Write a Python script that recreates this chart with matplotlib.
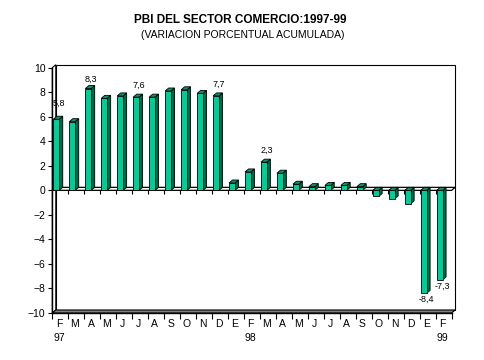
import matplotlib.pyplot as plt
import numpy as np
from matplotlib.patches import Polygon

plt.rcParams["font.family"] = ["Liberation Sans", "DejaVu Sans"]

# Data (accumulated % variation, Feb-97 .. Feb-99)
months = ["F", "M", "A", "M", "J", "J", "A", "S", "O", "N", "D", "E",
          "F", "M", "A", "M", "J", "J", "A", "S", "O", "N", "D", "E", "F"]
years = {0: "97", 12: "98", 24: "99"}
values = [5.8, 5.6, 8.3, 7.5, 7.7, 7.6, 7.6, 8.1, 8.2, 7.9, 7.7, 0.6,
          1.5, 2.3, 1.4, 0.5, 0.3, 0.4, 0.4, 0.3, -0.5, -0.7, -1.1, -8.4, -7.3]
labelled = [0, 2, 5, 10, 13, 23, 24]

front = "#00cc99"
side = "#006648"
top = "#00996e"

fig = plt.figure(figsize=(4.84, 3.6), dpi=100)
ax = fig.add_axes([52.3 / 484, 47 / 360, 399.3 / 484, 245.3 / 360])
x = np.arange(len(values))
x0, x1 = -0.25, len(values) - 0.25
ax.set_xlim(x0, x1)
ax.set_ylim(-10, 10)

# depth offset of the 3d look: 3.5 px right, 3 px up, turned into data units
inv = ax.transData.inverted()
p = ax.transData.transform((0, 0))
ddx, ddy = inv.transform(p + np.array([3.5, 3.0])) - inv.transform(p)

for s in ["top", "right", "bottom"]:
    ax.spines[s].set_visible(False)
ax.spines["left"].set_linewidth(1.0)


def poly(pts, fc, z, lw=0.8):
    ax.add_patch(Polygon(pts, closed=True, facecolor=fc, edgecolor="black",
                         linewidth=lw, zorder=z, clip_on=False))


# walls, floor and zero plane
poly([(x0, -10), (x0, 10), (x0 + ddx, 10 + ddy), (x0 + ddx, -10 + ddy)], "white", 1)
poly([(x0 + ddx, -10 + ddy), (x0 + ddx, 10 + ddy), (x1 + ddx, 10 + ddy), (x1 + ddx, -10 + ddy)],
     "white", 0.5)
poly([(x0, -10), (x1, -10), (x1 + ddx, -10 + ddy), (x0 + ddx, -10 + ddy)], "#808080", 1)
poly([(x0, 0), (x1, 0), (x1 + ddx, ddy), (x0 + ddx, ddy)], "white", 1, lw=0.9)

# bars: front face from ax.bar, side and top faces as polygons
w = 0.37
ax.bar(x, values, width=w, color=front, edgecolor="black", linewidth=0.6, zorder=3)
for xi, v in zip(x, values):
    r, l = xi + w / 2, xi - w / 2
    t = max(v, 0)
    poly([(r, 0), (r, v), (r + ddx, v + ddy), (r + ddx, ddy)], side, 2.5, lw=0.6)
    poly([(l, t), (r, t), (r + ddx, t + ddy), (l + ddx, t + ddy)], top, 2.6, lw=0.6)

# ticks along zero line and bottom edge
minor = np.arange(len(values) + 1) + x0
ax.vlines(minor, 0, -0.3, color="black", linewidth=0.8, zorder=1.5)
ax.set_xticks(minor, minor=True)
ax.tick_params(axis="x", which="minor", length=4, width=0.8, direction="out")
ax.axhline(-10, color="black", linewidth=1.0, zorder=1.2, clip_on=False)

ticklabels = [m + ("\n" + years[i] if i in years else "") for i, m in enumerate(months)]
ax.set_xticks(x + 0.17, ticklabels)
ax.tick_params(axis="x", which="major", length=0, pad=4.5, labelsize=7.5)
for lab in ax.get_xticklabels():
    lab.set_linespacing(1.45)

ax.set_yticks(np.arange(-10, 11, 2))
ax.tick_params(axis="y", length=3, width=0.8, pad=2, labelsize=7.5)

# value labels
for i in labelled:
    v = values[i]
    off = {0: 16, 2: 9}.get(i, 12) if v > 0 else -6
    ax.annotate(f"{v:.1f}".replace(".", ","), (x[i], v), xytext=(2, off * 0.72),
                textcoords="offset points", ha="center", va="center",
                fontsize=6.5, zorder=5)

fig.text(240 / 484, 1 - 20 / 360, "PBI DEL SECTOR COMERCIO:1997-99",
         ha="center", va="center", fontsize=8.5, fontweight="bold")
fig.text(243 / 484, 1 - 35 / 360, "(VARIACION PORCENTUAL ACUMULADA)",
         ha="center", va="center", fontsize=7.5)

fig.savefig("out.png", dpi=100)
